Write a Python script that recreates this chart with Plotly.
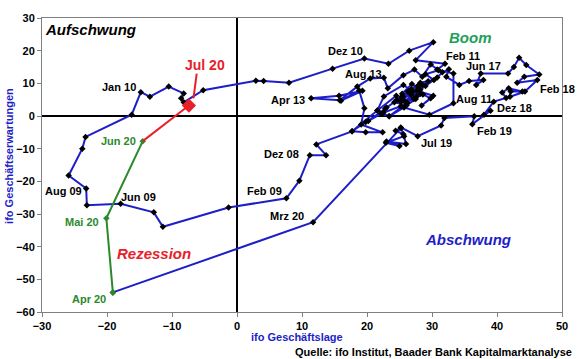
import plotly.graph_objects as go

# Monthly ifo data (Geschäftslage, Geschäftserwartungen), Jan 2008 - Jul 2020
month_names = ["Jan", "Feb", "Mrz", "Apr", "Mai", "Jun", "Jul", "Aug", "Sep", "Okt", "Nov", "Dez"]

lage = [
    # 2008
    28.5, 26.8, 28.0, 25.5, 26.2, 23.4, 22.2, 19.8, 17.7, 12.2, 13.7, 11.2,
    # 2009
    9.6, 7.6, -1.3, -11.4, -12.8, -17.9, -23.1, -23.2, -25.9, -23.8, -23.3, -16.2,
    # 2010
    -14.8, -13.4, -10.5, -8.2, -8.6, -8.2, -5.2, 2.9, 4.1, 8.0, 14.7, 19.6,
    # 2011
    23.3, 26.5, 30.2, 27.5, 32.0, 30.8, 33.3, 33.3, 29.6, 25.7, 23.4, 21.6,
    # 2012
    24.5, 25.2, 27.0, 25.6, 22.6, 21.6, 17.7, 19.8, 22.4, 19.1, 19.6, 18.8,
    # 2013
    16.0, 19.3, 15.7, 11.4, 15.8, 18.5, 20.5, 22.6, 23.2, 25.6, 27.3, 28.5,
    # 2014
    29.8, 31.0, 29.0, 30.3, 28.2, 26.8, 27.6, 25.2, 22.5, 20.2, 22.8, 24.6,
    # 2015
    26.3, 27.8, 29.4, 28.2, 26.9, 25.4, 27.2, 28.6, 29.8, 28.4, 30.2, 27.6,
    # 2016
    25.3, 23.0, 24.2, 26.1, 27.5, 26.4, 28.2, 25.8, 29.0, 30.8, 31.6, 32.6,
    # 2017
    32.2, 34.2, 35.7, 37.9, 36.8, 37.5, 41.7, 42.6, 43.4, 44.5, 46.5, 44.2,
    # 2018
    43.1, 46.2, 44.3, 42.0, 42.1, 43.9, 41.8, 40.8, 41.4, 39.5, 38.0, 39.0,
    # 2019
    36.2, 36.5, 31.9, 31.4, 27.8, 25.2, 25.7, 22.9, 25.0, 23.0, 26.0, 25.6,
    # 2020
    24.4, 25.2, 11.7, -19.1, -20.1, -14.5, -7.4,
]

erwartungen = [
    # 2008
    9.5, 6.5, 8.0, 6.0, 4.0, -0.1, 0.7, -1.8, -4.7, -8.7, -12.0, -12.0,
    # 2009
    -19.8, -25.2, -28.0, -33.9, -29.5, -26.9, -27.3, -22.2, -18.2, -10.0, -6.4, 0.4,
    # 2010
    7.3, 5.9, 9.0, 6.9, 5.4, 4.2, 7.9, 10.8, 10.7, 10.2, 14.5, 17.6,
    # 2011
    16.0, 20.0, 22.6, 17.1, 16.0, 14.2, 13.0, 3.9, 0.4, 2.6, -0.1, 1.7,
    # 2012
    6.2, 4.4, 7.5, 9.5, 6.0, 1.7, -4.7, -5.0, -5.0, -2.6, 2.4, 7.8,
    # 2013
    4.7, 7.7, 6.2, 5.4, 4.8, 9.0, 11.5, 11.7, 8.5, 12.5, 14.2, 12.0,
    # 2014
    15.8, 14.0, 12.8, 11.0, 10.2, 8.2, 6.0, 3.0, 1.0, -1.5, 2.2, 5.0,
    # 2015
    7.4, 9.2, 10.6, 8.0, 9.8, 6.8, 5.2, 6.6, 5.4, 3.2, 6.2, 7.8,
    # 2016
    5.8, 2.6, 4.2, 3.3, 5.2, 7.6, 6.8, 4.6, 9.2, 11.8, 13.4, 14.3,
    # 2017
    12.0, 9.5, 10.7, 11.0, 9.5, 13.0, 13.0, 15.0, 17.8, 15.6, 12.7, 12.0,
    # 2018
    10.2, 11.0, 7.5, 5.9, 7.5, 7.5, 8.5, 7.2, 5.5, 4.4, 0.4, 1.6,
    # 2019
    -2.5, -0.1, -0.6, -2.9, -6.2, -3.5, -6.2, -8.2, -9.2, -7.8, -8.6, -5.6,
    # 2020
    -4.5, -3.7, -32.5, -54.0, -31.3, -7.7, 3.2,
]

months = [f"{m} {y:02d}" for y in range(8, 21) for m in month_names][:len(lage)]

x_ticks = [-30, -20, -10, 0, 10, 20, 30, 40, 50]
y_ticks = [-60, -50, -40, -30, -20, -10, 0, 10, 20, 30]

i_apr20 = months.index("Apr 20")
i_jun20 = months.index("Jun 20")
i_jul20 = months.index("Jul 20")

BLUE = "#1E1EC8"
GREEN = "#2A8A2A"
RED = "#E8202A"
FONT = "Arial, Liberation Sans, sans-serif"

fig = go.Figure()
fig.add_trace(go.Scatter(
    x=lage[:i_apr20 + 1], y=erwartungen[:i_apr20 + 1], text=months[:i_apr20 + 1],
    mode="lines+markers", line=dict(color=BLUE, width=2),
    marker=dict(symbol="diamond", size=5, color="black"), hoverinfo="text+x+y"))
fig.add_trace(go.Scatter(
    x=lage[i_apr20:i_jun20 + 1], y=erwartungen[i_apr20:i_jun20 + 1],
    mode="lines+markers", line=dict(color=GREEN, width=2),
    marker=dict(symbol="diamond", size=5, color=GREEN)))
fig.add_trace(go.Scatter(
    x=lage[i_jun20:i_jul20 + 1], y=erwartungen[i_jun20:i_jul20 + 1],
    mode="lines", line=dict(color=RED, width=2)))
fig.add_trace(go.Scatter(
    x=[lage[i_jul20]], y=[erwartungen[i_jul20]], mode="markers",
    marker=dict(symbol="diamond", size=11, color=RED)))

# labels (text, x, y, color)
labels = [
    ("Jan 10", -18.1, 9.0, "black"), ("Dez 10", 16.7, 19.9, "black"),
    ("Feb 11", 34.7, 18.4, "black"), ("Aug 13", 19.4, 12.9, "black"),
    ("Jun 17", 37.9, 15.4, "black"), ("Apr 13", 7.8, 5.0, "black"),
    ("Aug 11", 36.5, 5.3, "black"), ("Feb 18", 49.3, 8.4, "black"),
    ("Dez 18", 42.7, 2.3, "black"), ("Feb 19", 39.6, -4.7, "black"),
    ("Jul 19", 30.7, -8.3, "black"), ("Dez 08", 6.8, -11.7, "black"),
    ("Feb 09", 4.2, -22.9, "black"), ("Mrz 20", 7.7, -30.5, "black"),
    ("Jun 09", -15.2, -24.7, "black"), ("Aug 09", -26.7, -22.9, "black"),
    ("Jun 20", -18.2, -7.7, GREEN), ("Mai 20", -23.9, -32.3, GREEN),
    ("Apr 20", -22.7, -56.0, GREEN),
]
for t, x, y, c in labels:
    fig.add_annotation(x=x, y=y, text=f"<b>{t}</b>", showarrow=False,
                       font=dict(family=FONT, size=11, color=c))

fig.add_annotation(x=-5.0, y=15.7, text="<b>Jul 20</b>", showarrow=False,
                   font=dict(family=FONT, size=14, color=RED))
fig.add_shape(type="line", x0=-6.2, y0=13.0, x1=-6.7, y1=5.4,
              line=dict(color=RED, width=2))

quads = [
    ("Aufschwung", -22.6, 26.6, "black"),
    ("Boom", 35.9, 24.0, "#22A05A"),
    ("Rezession", -12.8, -42.2, RED),
    ("Abschwung", 35.5, -37.7, "#1E1EC8"),
]
for t, x, y, c in quads:
    fig.add_annotation(x=x, y=y, text=f"<b><i>{t}</i></b>", showarrow=False,
                       font=dict(family=FONT, size=15, color=c))

fig.add_annotation(xref="paper", yref="paper", x=0.398, y=-0.085, xanchor="left",
                   yanchor="middle", text="<b>ifo Geschäftslage</b>", showarrow=False,
                   font=dict(family=FONT, size=11, color=BLUE))
fig.add_annotation(xref="paper", yref="paper", x=-0.064, y=0.53, textangle=-90,
                   xanchor="center", yanchor="middle",
                   text="<b>ifo Geschäftserwartungen</b>", showarrow=False,
                   font=dict(family=FONT, size=11, color=BLUE))
fig.add_annotation(xref="paper", yref="paper", x=1.023, y=-0.135, xanchor="right",
                   yanchor="middle",
                   text="<b>Quelle: ifo Institut, Baader Bank Kapitalmarktanalyse</b>",
                   showarrow=False, font=dict(family=FONT, size=11, color="black"))

axis_common = dict(showgrid=False, zeroline=True, zerolinecolor="black", zerolinewidth=2,
                   showline=True, linecolor="#808080", linewidth=1, mirror=True,
                   ticks="outside", ticklen=4, tickcolor="#808080",
                   tickfont=dict(family=FONT, size=11, color="black", weight="bold"))
fig.update_xaxes(range=[-30, 50], tickvals=x_ticks, **axis_common)
fig.update_yaxes(range=[-60, 30], tickvals=y_ticks, **axis_common)

fig.update_layout(width=580, height=359, showlegend=False,
                  margin=dict(l=42, r=17, t=16, b=47),
                  plot_bgcolor="white", paper_bgcolor="white",
                  font=dict(family=FONT))

# remove the default page margin so the figure fills the window exactly
fig.write_html("out.html", config={"displayModeBar": False},
               post_script="document.body.style.margin='0';document.body.style.overflow='hidden';")
